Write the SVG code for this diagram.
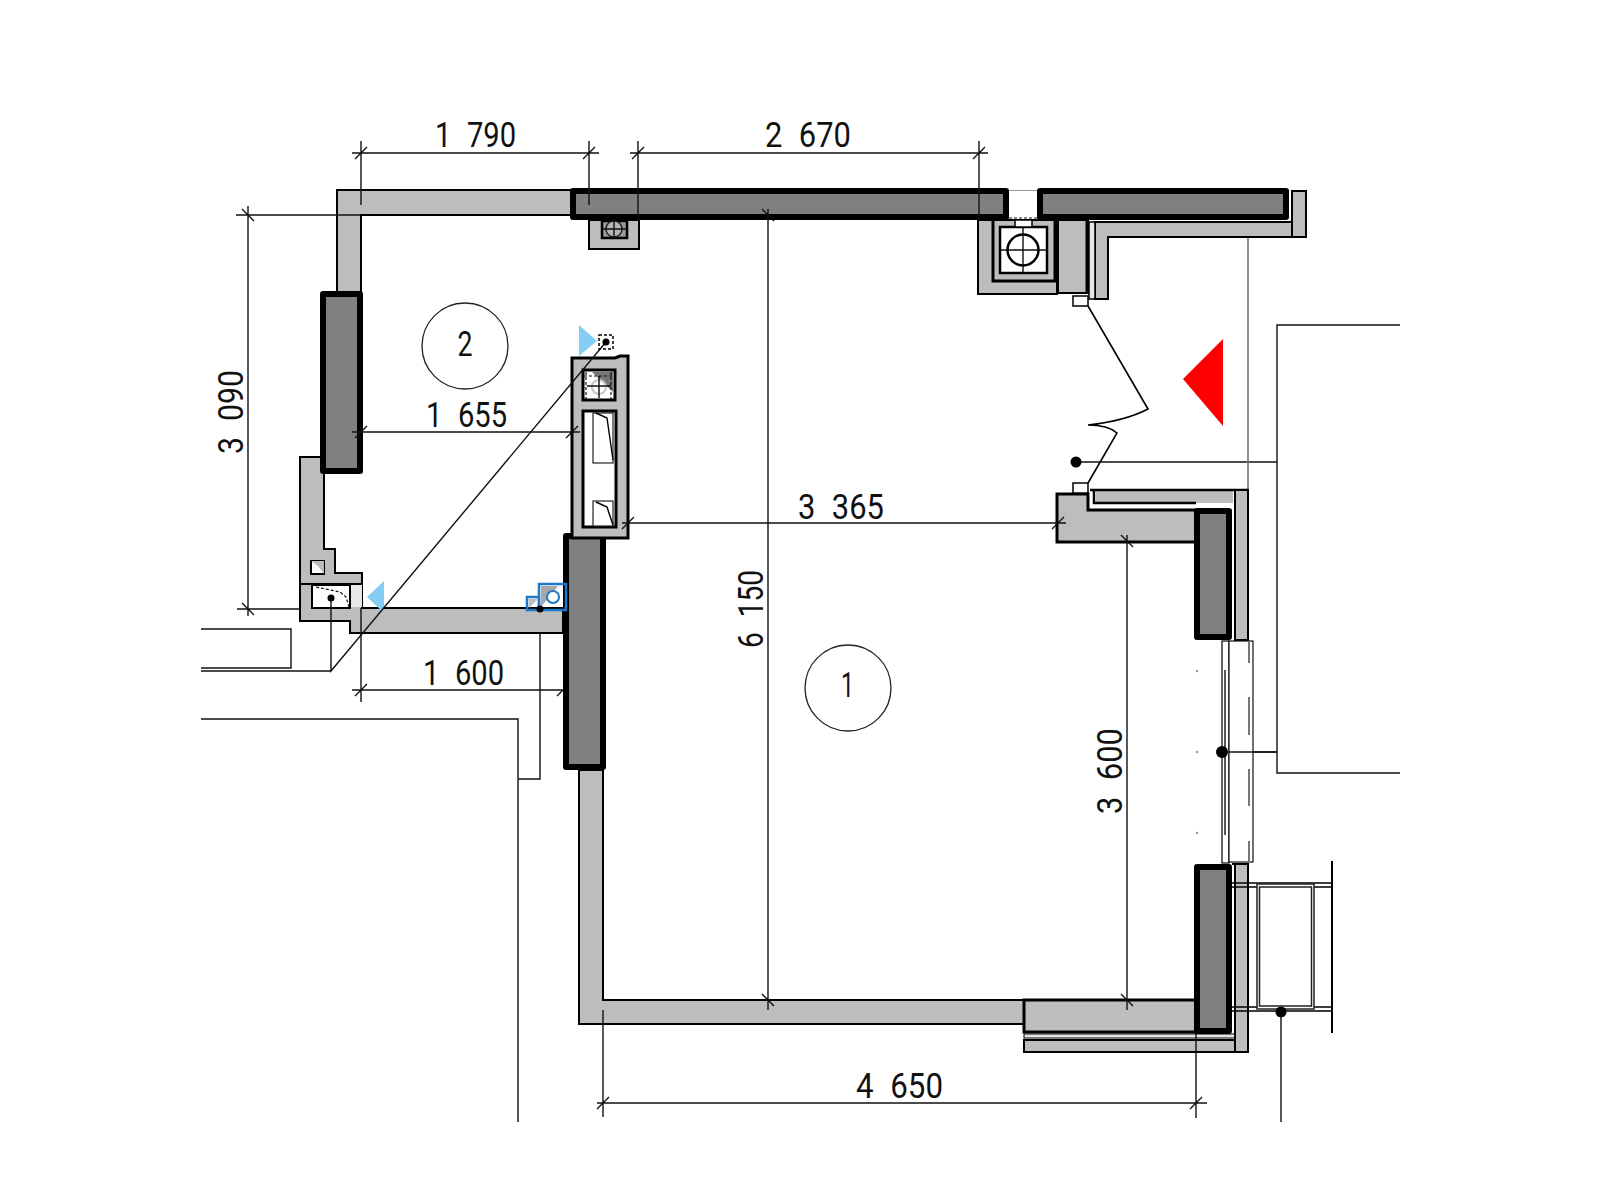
<svg xmlns="http://www.w3.org/2000/svg" width="1600" height="1200" viewBox="0 0 1600 1200">
<style>
.w{fill:#bdbdbd;stroke:#000;stroke-width:2}
.p{fill:#808080;stroke:#000;stroke-width:6;stroke-linejoin:round}
.l{fill:none;stroke:#111;stroke-width:1.4}
.g{fill:none;stroke:#777;stroke-width:1.6}
.b{fill:none;stroke:#000;stroke-width:2}
.n{fill:#fff;stroke:#000;stroke-width:2}
.t{font-family:Roboto,"Liberation Sans",sans-serif;font-size:35px;font-weight:400;fill:#111;word-spacing:10px}
.lb{fill:#85cdf5}
.bl{fill:none;stroke:#1c78c8;stroke-width:2.5}
.d{fill:none;stroke:#111;stroke-width:1.2;stroke-dasharray:3 2}
</style>
<rect width="1600" height="1200" fill="#fff"/>
<g id="site-lines">
<path class="l" d="M201 629H291V668H201M201 671H331M201 719H518V1122M540 609V779H518"/>
<path class="l" d="M1400 325H1277V773H1400M1076 462H1277M1229 752H1277M1281 1012V1122"/>
<path class="g" d="M1248 237V490"/>
</g>
<g id="walls">
<path class="w" d="M337 190H572V215H361V294H337Z"/>
<path class="w" d="M300 457H324V549H335V573H362V608H563V633H350V621H300Z"/>
<path class="b" d="M300 584H362"/>
<rect x="312" y="585" width="38" height="23" class="n"/>
<rect x="351" y="585" width="11" height="22" fill="#e8e8e8"/>
<rect x="311" y="561" width="13" height="13" class="n"/>
<path d="M324 561L311 561L318 566L324 574Z" fill="#bdbdbd"/>
<path class="d" d="M316 587L340 592L346 597L349 607"/>
<path class="w" d="M579 770H603V1000H1024V1024H579Z"/>
<path class="w" d="M1024 1000H1196V1032H1024Z" style="stroke-width:3"/>
<rect x="1024" y="1034" width="224" height="4" fill="#e8e8e8" stroke="#000" stroke-width="1"/>
<rect x="1024" y="1040" width="224" height="12" class="w"/>
<path class="w" d="M1057 494H1088V510H1196V542H1057Z" style="stroke-width:3"/>
<rect x="1096" y="490" width="137" height="13" fill="#bdbdbd"/>
<path class="b" d="M1090 490H1248M1094 490V503H1196" style="stroke-width:2.5"/>
<rect x="1235" y="490" width="13" height="150" class="w"/>
<rect x="1235" y="864" width="13" height="188" class="w"/>
<path class="b" d="M1232 864H1248"/>
<path class="w" d="M1108 237V299H1095V222H1292V191H1306V237Z"/>
<path class="b" d="M1292 191V237"/>
<rect x="1089" y="222" width="6" height="77" fill="#e8e8e8" stroke="#000" stroke-width="1.5"/>
</g>
<g id="pier-top-left"><rect class="p" x="573" y="191" width="433" height="26"/></g>
<g id="pier-top-right"><rect class="p" x="1040" y="191" width="246" height="26"/>
<path d="M1009 190.500H1037" stroke="#999" stroke-width="1" fill="none"/>
<path class="d" d="M1009 218H1037" stroke-width="1"/></g>
<g id="pier-left"><rect class="p" x="323" y="294" width="37" height="177"/></g>
<g id="pier-center"><rect class="p" x="566" y="536" width="37" height="231"/></g>
<g id="pier-right-upper"><rect class="p" x="1197" y="511" width="32" height="126"/></g>
<g id="pier-right-lower"><rect class="p" x="1197" y="867" width="32" height="164"/></g>
<g id="shaft-small">
<path class="w" d="M589 220H639V249H589Z"/>
<rect x="602" y="221" width="25" height="17" fill="#9a9a9a" stroke="#000" stroke-width="2.5"/>
<circle cx="614" cy="229" r="8" fill="#b5b5b5" stroke="#222" stroke-width="1.5"/>
<path class="l" d="M603 229H626M614 220V238"/>
</g>
<g id="shaft-large">
<rect x="978" y="220" width="79" height="74" class="w"/>
<path d="M993 220V281H1055V220" fill="none" stroke="#000" stroke-width="3"/>
<rect x="1058" y="220" width="30" height="73" class="w"/>
<path d="M1087 220V293" stroke="#000" stroke-width="3" fill="none"/>
<rect x="1000" y="227" width="47" height="46" fill="#fff" stroke="#000" stroke-width="2.500"/>
<rect x="1015" y="220" width="17" height="7" class="n" style="stroke-width:1.5"/>
<circle cx="1023" cy="250" r="15.5" fill="#fff" stroke="#000" stroke-width="2.500"/>
<path class="l" d="M1001 250H1046M1023 228V272"/>
<rect x="1073" y="296" width="15" height="10" class="n" style="stroke-width:1.5"/>
</g>
<g id="shaft-unit">
<path class="w" d="M572 358H615L620 356H628V538H572Z" style="stroke-width:3"/>
<rect x="583" y="370" width="32" height="30" fill="#fff" stroke="#000" stroke-width="3"/>
<path d="M592 372H613V392Z" fill="#777"/>
<circle cx="599" cy="387" r="7" fill="none" stroke="#c8c8c8" stroke-width="2"/>
<path class="l" d="M587 386H611M599 376V398"/>
<path class="d" d="M586 372V399M611 372V399M584 376H614"/>
<rect x="583" y="411" width="33" height="116" fill="#fff" stroke="#000" stroke-width="3"/>
<rect x="593" y="413" width="20" height="50" fill="#fff" stroke="#222" stroke-width="1.2"/>
<path class="b" d="M596 413L607 418L613 460" style="stroke-width:1.4"/>
<rect x="593" y="501" width="20" height="25" fill="#fff" stroke="#222" stroke-width="1.2"/>
<path class="b" d="M596 502L607 507L613 525" style="stroke-width:1.4"/>
</g>
<g id="window">
<rect x="1222" y="641" width="7" height="222" fill="#fff" stroke="#000" stroke-width="1.2"/>
<path class="l" d="M1225 670V835"/>
<rect x="1229" y="641" width="24" height="221" fill="#fff" stroke="#111" stroke-width="1.2"/>
<path d="M1249 642V663M1249 697V735M1249 769V806M1249 841V862" stroke="#777" stroke-width="2" fill="none"/>
<circle cx="1197" cy="671" r="1.2" fill="#999"/><circle cx="1197" cy="752" r="1.2" fill="#999"/><circle cx="1197" cy="833" r="1.2" fill="#999"/>
<path class="l" d="M1229 752H1277"/>
</g>
<g id="door">
<rect x="1073" y="483" width="15" height="10" class="n" style="stroke-width:1.5"/>
<path class="b" d="M1088 306L1148 409Q1125 421 1088 425Q1108 425 1117 433L1088 483" style="stroke-width:1.6"/>
</g>
<g id="balcony">
<path class="b" d="M1232 883H1332M1232 887H1332M1232 1007H1332M1232 1011H1332" style="stroke-width:1.5"/>
<rect x="1257" y="884" width="57" height="125" fill="#fff" stroke="#222" stroke-width="1.5"/>
<rect x="1259.500" y="887" width="52" height="119" fill="#fff" stroke="#222" stroke-width="1.5"/>
<path class="b" d="M1332 861V1033"/>
</g>
<g id="fixtures">
<rect class="bl" x="539" y="584" width="27" height="26" fill="none"/>
<path d="M541 607V586H558Z" fill="#a8a8a8"/>
<circle cx="553" cy="597" r="6" fill="#fff" stroke="#1c78c8" stroke-width="2"/>
<rect class="bl" x="527" y="597" width="12" height="13"/>
<path d="M529 608V599L538 599Z" fill="#bdbdbd"/>
<circle cx="540" cy="609" r="3.500" fill="#000"/>
<rect class="d" x="599" y="335" width="14" height="14" style="stroke:#000;stroke-width:1.5"/>
<path class="lb" d="M367 597L384 581V613Z"/>
<path class="lb" d="M579 325L597 341L579 356Z"/>
<path class="l" d="M331 600V671L606 342"/>
<circle cx="606" cy="342" r="3.500" fill="#000"/>
<circle cx="331" cy="598" r="3.500" fill="#000"/>
<circle cx="1076" cy="462" r="5.500" fill="#000"/>
<circle cx="1222" cy="752" r="6" fill="#000"/>
<circle cx="1281" cy="1012" r="5.500" fill="#000"/>
<path d="M1183 379L1223 339V426Z" fill="#f00"/>
</g>
<g id="connectors">
<path class="l" d="M352 153H599M361 141V205M589 141V205M355 159L367 147M583 159L595 147"/>
<path class="l" d="M630 153H988M638 141V220M979 141V220M632 159L644 147M973 159L985 147"/>
<path class="l" d="M236 215H361M248 206V616M242 209L254 221M237 609H300M242 603L254 615"/>
<path class="l" d="M352 432H580M355 438L367 426M566 438L578 426"/>
<path class="l" d="M622 523H1066M622 529L634 517M1052 529L1064 517"/>
<path class="l" d="M352 690H563M361 608V702M355 696L367 684M557 696L563 690"/>
<path class="l" d="M768 209V1010M762 209L774 221M762 994L774 1006"/>
<path class="l" d="M1127 535V1010M1121 535L1133 547M1121 994L1133 1006"/>
<path class="l" d="M597 1103H1207M603 1010V1117M1196 1034V1118M597 1109L609 1097M1190 1109L1202 1097"/>
</g>
<g id="room-2"><circle cx="465" cy="346" r="43" fill="none" stroke="#222" stroke-width="1.3"/>
<text class="t" x="457.500" y="356" textLength="15" lengthAdjust="spacingAndGlyphs">2</text></g>
<g id="room-1"><circle cx="848" cy="688" r="43" fill="none" stroke="#222" stroke-width="1.3"/>
<text class="t" x="841" y="697" textLength="13" lengthAdjust="spacingAndGlyphs">1</text></g>
<g id="labels">
<text class="t" x="435" y="147" textLength="81" lengthAdjust="spacingAndGlyphs">1 790</text>
<text class="t" x="765" y="147" textLength="86" lengthAdjust="spacingAndGlyphs">2 670</text>
<text class="t" x="426" y="427" textLength="81" lengthAdjust="spacingAndGlyphs">1 655</text>
<text class="t" x="798" y="519" textLength="86" lengthAdjust="spacingAndGlyphs">3 365</text>
<text class="t" x="423" y="685" textLength="81" lengthAdjust="spacingAndGlyphs">1 600</text>
<text class="t" x="856" y="1098" textLength="87" lengthAdjust="spacingAndGlyphs">4 650</text>
<text class="t" transform="translate(243 454) rotate(-90)" textLength="84" lengthAdjust="spacingAndGlyphs">3 090</text>
<text class="t" transform="translate(763 648) rotate(-90)" textLength="78" lengthAdjust="spacingAndGlyphs">6 150</text>
<text class="t" transform="translate(1122 814) rotate(-90)" textLength="86" lengthAdjust="spacingAndGlyphs">3 600</text>
</g>
</svg>
